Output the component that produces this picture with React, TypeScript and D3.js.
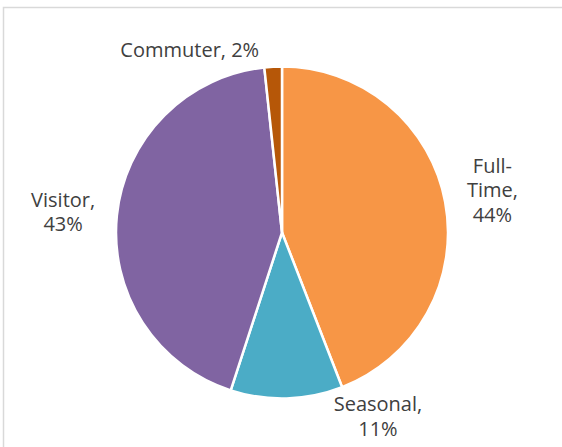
import { arc, pie, PieArcDatum, select } from 'd3';
import { useEffect, useRef } from 'react';

// chart data
const categories = ['Full-Time', 'Seasonal', 'Visitor', 'Commuter'];
const shares = [44.1, 10.9, 43.3, 1.7];
const shareLabels = ['44%', '11%', '43%', '2%'];
// where Excel wrapped each label
const labelLines = [
  ['Full-', 'Time,', '44%'],
  ['Seasonal,', '11%'],
  ['Visitor,', '43%'],
  ['Commuter, 2%']
];

const colors = ['#F79646', '#4BACC6', '#8064A2', '#B65708'];

// best-fit nudges for labels (px)
const labelNudge = [
  [3, -3.5],
  [90, -27],
  [-9, 1.5],
  [-81, 28]
];

interface Slice {
  name: string;
  value: number;
  pct: string;
}

function App(): JSX.Element {
  const svgRef = useRef<SVGSVGElement | null>(null);
  const width = 562;
  const height = 447;

  useEffect(() => {
    if (svgRef.current) svgRef.current.innerHTML = '';
    const svg = select(svgRef.current);
    svg.attr('width', width).attr('height', height);

    // chart area frame
    svg
      .append('rect')
      .attr('x', 3.5)
      .attr('y', 7.5)
      .attr('width', 620)
      .attr('height', 520)
      .attr('fill', '#fff')
      .attr('stroke', '#d9d9d9')
      .attr('stroke-width', 1.5);

    const data: Slice[] = categories.map((name, i) => ({
      name,
      value: shares[i],
      pct: shareLabels[i]
    }));

    const cx = 282;
    const cy = 232.5;
    const radius = 166;

    const pieGen = pie<Slice>()
      .sort(null)
      .value((d) => d.value);
    const arcs = pieGen(data);

    const arcGen = arc<PieArcDatum<Slice>>().innerRadius(0).outerRadius(radius);

    const g = svg.append('g').attr('transform', `translate(${cx},${cy})`);

    g.selectAll('path')
      .data(arcs)
      .enter()
      .append('path')
      .attr('d', arcGen)
      .attr('fill', (_d, i) => colors[i])
      .attr('stroke', '#fff')
      .attr('stroke-width', 2.5)
      .attr('stroke-linejoin', 'round');

    // labels outside the pie
    const labelR = radius + 45;
    const lh = 24.5;
    arcs.forEach((a, i) => {
      const mid = (a.startAngle + a.endAngle) / 2;
      const x = Math.sin(mid) * labelR + labelNudge[i][0];
      const y = -Math.cos(mid) * labelR + labelNudge[i][1];
      const lines = labelLines[i];
      const text = g
        .append('text')
        .attr('text-anchor', 'middle')
        .attr('font-family', '"Open Sans", "Noto Sans", sans-serif')
        .attr('font-size', '20px')
        .attr('fill', '#404040');
      lines.forEach((ln, j) => {
        text
          .append('tspan')
          .attr('x', x)
          .attr('y', y - ((lines.length - 1) * lh) / 2 + j * lh)
          .attr('dy', '0.35em')
          .text(ln);
      });
    });
  }, []);

  return (
    <div style={{ position: 'absolute', left: 0, top: 0 }}>
      <svg ref={svgRef} style={{ display: 'block' }} />
    </div>
  );
}

export default App;
